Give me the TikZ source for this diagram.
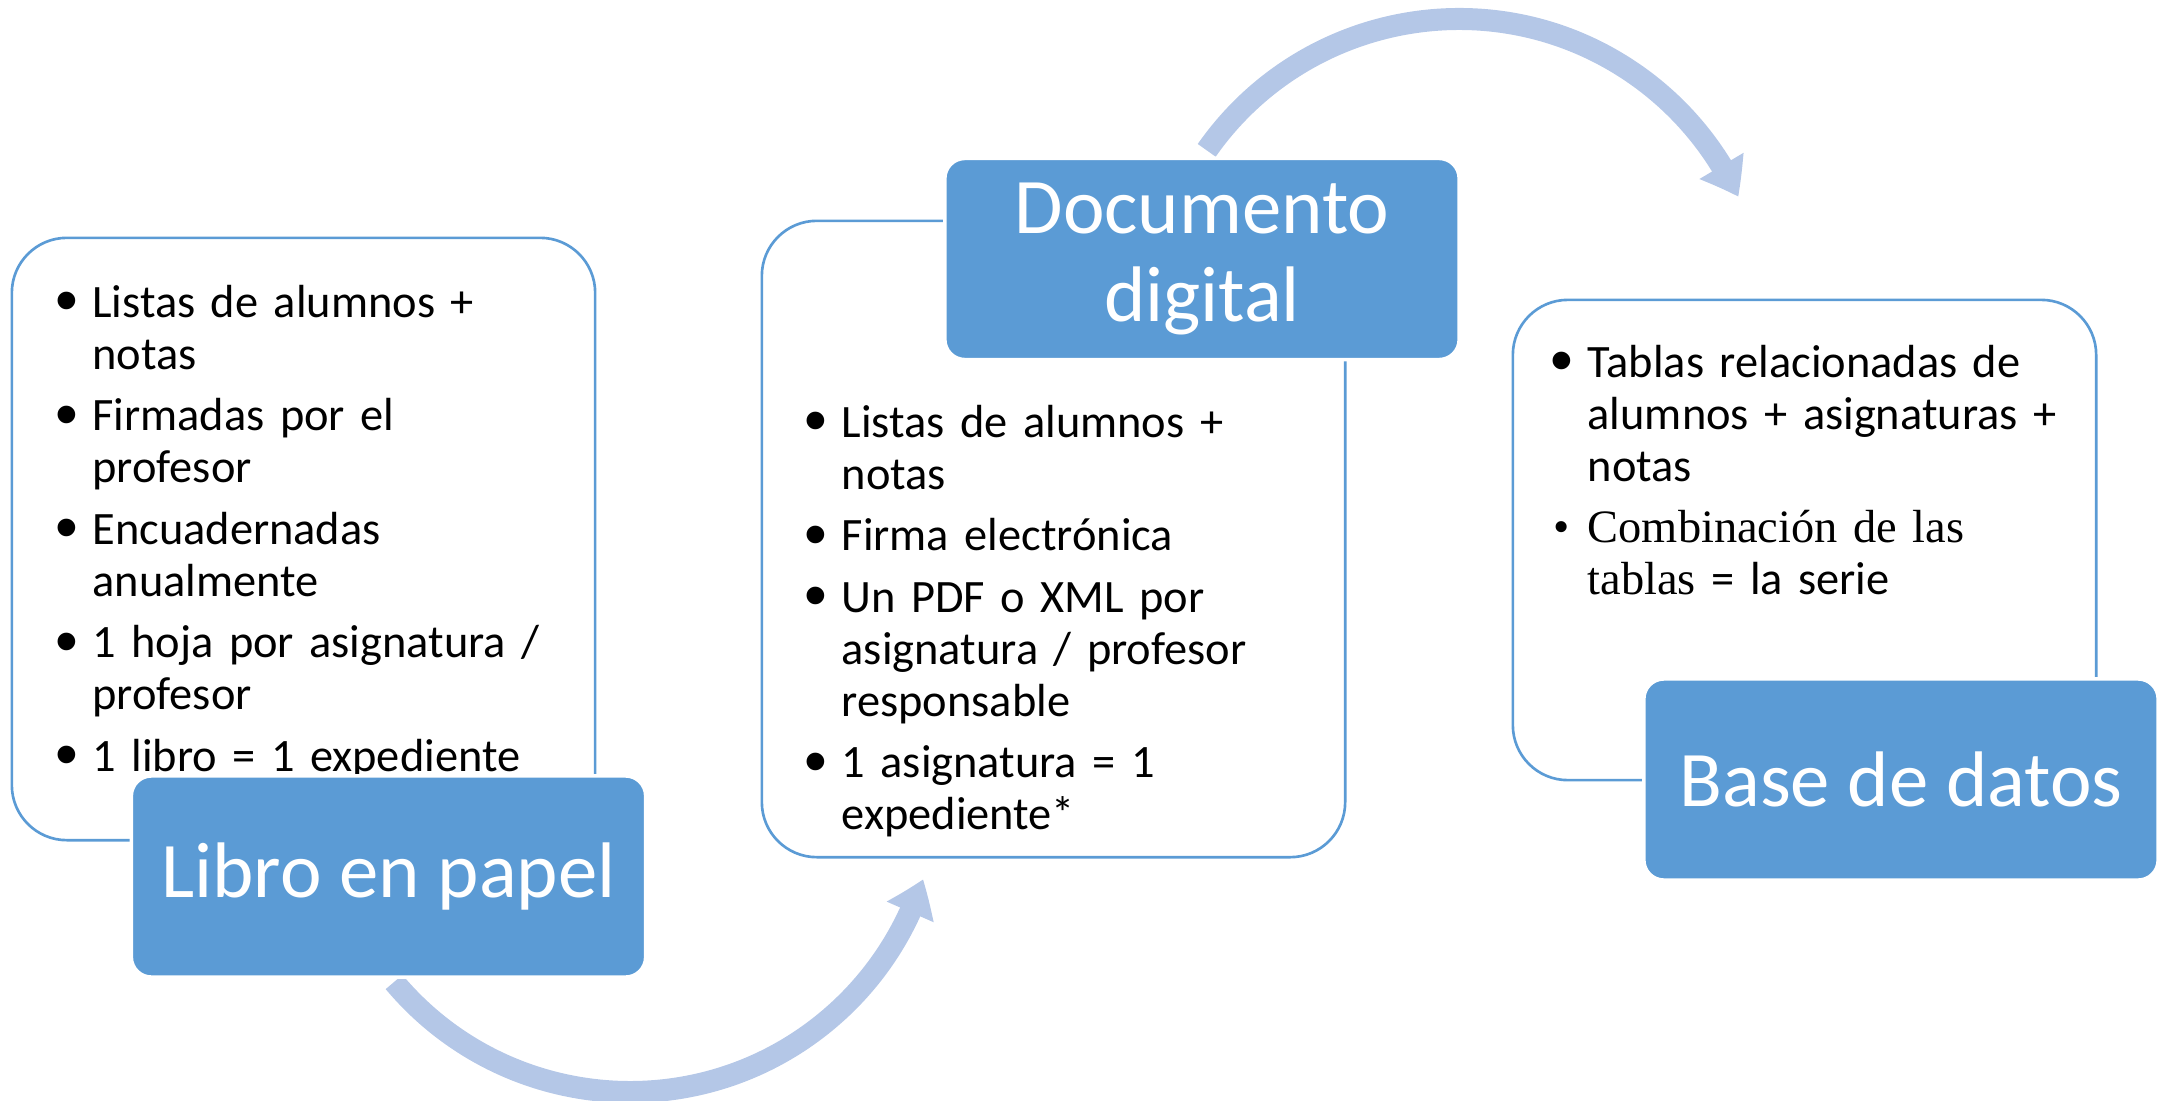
\documentclass[tikz,border=0pt]{standalone}
\usepackage{fontspec}
\setmainfont{Carlito}
\newfontfamily\tnrfont{Liberation Serif}
\newfontfamily\arialfont{Liberation Sans}
\usetikzlibrary{arrows.meta,bending}

\definecolor{boxblue}{HTML}{5B9BD5}
\definecolor{arcblue}{HTML}{B4C7E7}

\newlength\bulletind
\setlength\bulletind{0.52cm}
\newcommand\bigbullet{\raisebox{-0.12em}{\scalebox{1.4}{\arialfont\textbullet}}}
\newcommand\bitem[2][\bigbullet]{\noindent\hangindent=\bulletind\hangafter=1\makebox[\bulletind][c]{#1}#2\par}

\tikzset{
  listbox/.style={draw=boxblue, line width=0.75pt, fill=white, rounded corners=0.55cm, minimum width=5.83cm, inner sep=0pt},
  titlebox/.style={draw=white, line width=1pt, fill=boxblue, rounded corners=0.2cm, minimum width=5.14cm, minimum height=2.01cm, text=white, font=\fontsize{22.4}{24.8}\selectfont, align=center},
  listtext/.style={anchor=base west, inner sep=0pt, text width=5.4cm, align=left, font=\fontsize{13.2}{14.8}\selectfont, execute at begin node={\setlength\parskip{2.7pt}}},
  flowarrow/.style={draw=arcblue, line width=6.26pt, -{Triangle[width=13.9pt,length=10pt,bend]}}
}

\begin{document}
\begin{tikzpicture}[x=0.01cm,y=-0.01cm]
\useasboundingbox (0,0) rectangle (2164,1100);

% arrows between the stages
\coordinate (lowc) at (630,784);
\coordinate (topc) at (1459,327);
\draw[flowarrow] ([shift={(140:308)}]lowc) arc[start angle=140, end angle=18, radius=308];
\draw[flowarrow] ([shift={(215:308)}]topc) arc[start angle=215, end angle=335, radius=308];

% paper
\node[listbox, minimum height=6.02cm] (papelbox) at (303.5,539) {};
\node[listtext] (papeltxt) at (39.7,317) {%
\bitem{Listas de alumnos +\newline notas}
\bitem{Firmadas por el\newline profesor}
\bitem{Encuadernadas\newline anualmente}
\bitem{1 hoja por asignatura /\newline profesor}
\bitem{1 libro = 1 expediente}};
\node[titlebox] (papel) at (388.5,876.5) {Libro en papel};

% digital document
\node[listbox, minimum height=6.36cm] (digbox) at (1053.5,539) {};
\node[listtext] (digtxt) at (789,437) {%
\bitem{Listas de alumnos +\newline notas}
\bitem{Firma electrónica}
\bitem{Un PDF o XML por\newline asignatura / profesor\newline responsable}
\bitem{1 asignatura = 1\newline expediente*}};
\node[titlebox] (digital) at (1202,259) {Documento\\digital};

% database
\node[listbox, minimum height=4.80cm] (basebox) at (1804.5,540) {};
\node[listtext] (basetxt) at (1535,377) {%
\bitem{Tablas relacionadas de\newline alumnos + asignaturas +\newline notas}
\bitem[{\tnrfont\textbullet}]{{\tnrfont Combinación de las\newline tablas} = la serie}};
\node[titlebox] (base) at (1901,779.5) {Base de datos};

\end{tikzpicture}
\end{document}
